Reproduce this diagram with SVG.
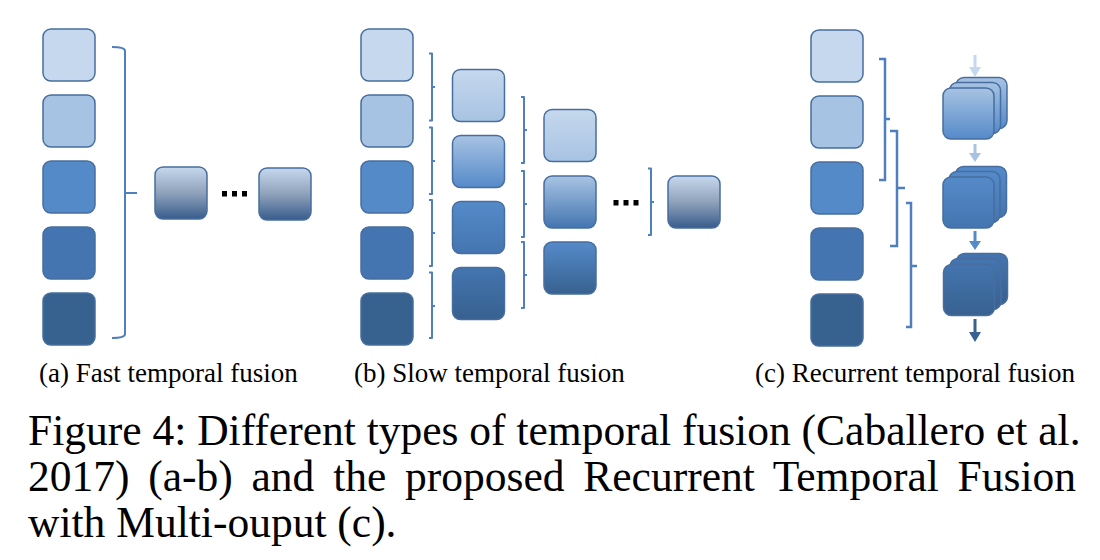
<svg xmlns="http://www.w3.org/2000/svg" width="1100" height="560" viewBox="0 0 1100 560">
<defs>
<linearGradient id="gA" x1="0" y1="0" x2="0" y2="1"><stop offset="0" stop-color="#c5d8ed"/><stop offset="0.5" stop-color="#8fa2bb"/><stop offset="1" stop-color="#385c8c"/></linearGradient>
<linearGradient id="gB1" x1="0" y1="0" x2="0" y2="1"><stop offset="0" stop-color="#c5d8ed"/><stop offset="1" stop-color="#a7c3e3"/></linearGradient>
<linearGradient id="gB2" x1="0" y1="0" x2="0" y2="1"><stop offset="0" stop-color="#a7c3e3"/><stop offset="1" stop-color="#558ac9"/></linearGradient>
<linearGradient id="gB3" x1="0" y1="0" x2="0" y2="1"><stop offset="0" stop-color="#558ac9"/><stop offset="1" stop-color="#4475b0"/></linearGradient>
<linearGradient id="gB4" x1="0" y1="0" x2="0" y2="1"><stop offset="0" stop-color="#4475b0"/><stop offset="1" stop-color="#37618f"/></linearGradient>
<linearGradient id="gC2" x1="0" y1="0" x2="0" y2="1"><stop offset="0" stop-color="#a7c3e3"/><stop offset="1" stop-color="#4475b0"/></linearGradient>
<linearGradient id="gC3" x1="0" y1="0" x2="0" y2="1"><stop offset="0" stop-color="#558ac9"/><stop offset="1" stop-color="#37618f"/></linearGradient>
</defs>
<style>
.b{stroke:#476e9e;stroke-width:1.5}
.c1{fill:#c5d8ed}.c2{fill:#a7c3e3}.c3{fill:#558ac9}.c4{fill:#4475b0}.c5{fill:#37618f}
.br{fill:none;stroke:#4f7fbc;stroke-width:2;stroke-linejoin:round;stroke-linecap:butt}
.br3{fill:none;stroke:#4f7fbc;stroke-width:2.5}
.dot{fill:#000}
.sub{font-family:"Liberation Serif","Times New Roman",serif;font-size:27px;fill:#000}
.cap{font-family:"Liberation Serif","Times New Roman",serif;font-size:43.5px;fill:#000}
</style>
<rect width="1100" height="560" fill="#fff"/>

<!-- Panel (a) -->
<g id="a-in1"><rect class="b c1" x="43" y="29" width="52" height="52" rx="8"/></g>
<g id="a-in2"><rect class="b c2" x="43" y="95" width="52" height="52" rx="8"/></g>
<g id="a-in3"><rect class="b c3" x="43" y="161" width="52" height="52" rx="8"/></g>
<g id="a-in4"><rect class="b c4" x="43" y="227" width="52" height="52" rx="8"/></g>
<g id="a-in5"><rect class="b c5" x="43" y="293" width="52" height="52" rx="8"/></g>
<g id="a-out1"><rect class="b" fill="url(#gA)" x="155" y="167" width="52" height="52" rx="8"/></g>
<g id="a-dots"><rect class="dot" x="222" y="191" width="5" height="5.5"/><rect class="dot" x="232" y="191" width="5" height="5.5"/><rect class="dot" x="242" y="191" width="5" height="5.5"/></g>
<g id="a-out2"><rect class="b" fill="url(#gA)" x="259" y="168" width="52" height="52" rx="8"/></g>

<!-- Panel (b) -->
<g id="b-in1"><rect class="b c1" x="361" y="29" width="52" height="52" rx="8"/></g>
<g id="b-in2"><rect class="b c2" x="361" y="95" width="52" height="52" rx="8"/></g>
<g id="b-in3"><rect class="b c3" x="361" y="161" width="52" height="52" rx="8"/></g>
<g id="b-in4"><rect class="b c4" x="361" y="227" width="52" height="52" rx="8"/></g>
<g id="b-in5"><rect class="b c5" x="361" y="293" width="52" height="52" rx="8"/></g>
<g id="b-l2-1"><rect class="b" fill="url(#gB1)" x="452.5" y="69.5" width="52" height="52" rx="8"/></g>
<g id="b-l2-2"><rect class="b" fill="url(#gB2)" x="452.5" y="135.5" width="52" height="52" rx="8"/></g>
<g id="b-l2-3"><rect class="b" fill="url(#gB3)" x="452.5" y="201.5" width="52" height="52" rx="8"/></g>
<g id="b-l2-4"><rect class="b" fill="url(#gB4)" x="452.5" y="267.5" width="52" height="52" rx="8"/></g>
<g id="b-l3-1"><rect class="b" fill="url(#gB1)" x="544" y="109.5" width="52" height="52" rx="8"/></g>
<g id="b-l3-2"><rect class="b" fill="url(#gC2)" x="544" y="176" width="52" height="52" rx="8"/></g>
<g id="b-l3-3"><rect class="b" fill="url(#gC3)" x="544" y="242" width="52" height="52" rx="8"/></g>
<g id="b-dots"><rect class="dot" x="613.5" y="200" width="5" height="5.5"/><rect class="dot" x="623.5" y="200" width="5" height="5.5"/><rect class="dot" x="633.5" y="200" width="5" height="5.5"/></g>
<g id="b-out"><rect class="b" fill="url(#gA)" x="668" y="176" width="52" height="52" rx="8"/></g>

<!-- Panel (c) -->
<g id="c-in1"><rect class="b c1" x="811" y="30" width="52" height="52" rx="8"/></g>
<g id="c-in2"><rect class="b c2" x="811" y="96" width="52" height="52" rx="8"/></g>
<g id="c-in3"><rect class="b c3" x="811" y="162" width="52" height="52" rx="8"/></g>
<g id="c-in4"><rect class="b c4" x="811" y="228" width="52" height="52" rx="8"/></g>
<g id="c-in5"><rect class="b c5" x="811" y="294" width="52" height="52" rx="8"/></g>
<g id="c-stack1">
<rect class="b" fill="url(#gB2)" x="956" y="77.5" width="51" height="51" rx="8"/>
<rect class="b" fill="url(#gB2)" x="949.5" y="82.5" width="51" height="51" rx="8"/>
<rect class="b" fill="url(#gB2)" x="943" y="88" width="51" height="51" rx="8"/>
</g>
<g id="c-stack2">
<rect class="b" fill="url(#gB3)" x="955.5" y="166.5" width="51" height="51" rx="8"/>
<rect class="b" fill="url(#gB3)" x="949" y="171.5" width="51" height="51" rx="8"/>
<rect class="b" fill="url(#gB3)" x="943" y="177" width="51" height="51" rx="8"/>
</g>
<g id="c-stack3">
<rect class="b" fill="url(#gB4)" x="956.5" y="253.5" width="51" height="51" rx="8"/>
<rect class="b" fill="url(#gB4)" x="950" y="258.5" width="51" height="51" rx="8"/>
<rect class="b" fill="url(#gB4)" x="943.5" y="264.5" width="51" height="51" rx="8"/>
</g>

<!-- Connectors -->
<g id="connectors">
<path class="br" d="M112,47 Q125,47 125,51 V334 Q125,338 112,338 M125,193 H137"/>
<path class="br" d="M429,53.5 H432 V120.5 H429 M432,87 H435"/>
<path class="br" d="M429,127.5 H432 V194 H429 M432,161 H435"/>
<path class="br" d="M429,200 H432 V266 H429 M432,233 H435"/>
<path class="br" d="M429,272.5 H432 V338 H429 M432,306 H435"/>
<path class="br" d="M521,97 H524 V163 H521 M524,130 H527"/>
<path class="br" d="M521,171 H524 V237 H521 M524,204 H527"/>
<path class="br" d="M521,242 H524 V308 H521 M524,275 H527"/>
<path class="br" d="M648,168.5 H651 V235 H648 M651,202 H654"/>
<path class="br3" d="M879,59 H885 V180 H879 M885,119 H890"/>
<path class="br3" d="M890,131 H897 V246 H890 M897,188 H905"/>
<path class="br3" d="M906,203 H911 V327 H906 M911,266 H917"/>
<path fill="#c5d8ed" d="M973.5,55 H976.5 V67 H981 L975,77 L969,67 H973.5 Z"/>
<path fill="#a7c3e3" d="M973.5,144 H976.5 V153 H981 L975,162 L969,153 H973.5 Z"/>
<path fill="#558ac9" d="M973.5,231 H976.5 V241 H981 L975,250 L969,241 H973.5 Z"/>
<path fill="#37618f" d="M973.5,319 H976.5 V332 H981 L975,342 L969,332 H973.5 Z"/>
</g>

<!-- Labels -->
<text class="sub" x="39" y="382">(a) Fast temporal fusion</text>
<text class="sub" x="354" y="382">(b) Slow temporal fusion</text>
<text class="sub" x="755" y="382">(c) Recurrent temporal fusion</text>
<text class="cap" x="28" y="445">Figure 4: Different types of temporal fusion (Caballero et al.</text>
<text class="cap" x="28" y="491" word-spacing="7.9">2017) (a-b) and the proposed Recurrent Temporal Fusion</text>
<text class="cap" x="28" y="537">with Multi-ouput (c).</text>
</svg>
